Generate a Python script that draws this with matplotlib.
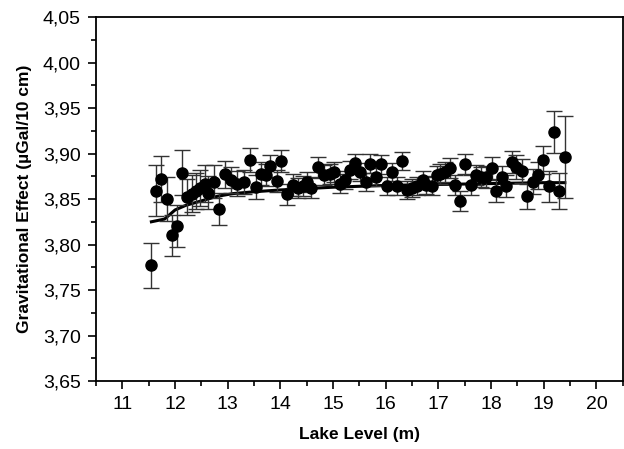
import matplotlib
matplotlib.use("Agg")
import matplotlib.pyplot as plt
from matplotlib.ticker import MultipleLocator, FuncFormatter

plt.rcParams['font.family'] = ['Liberation Sans', 'DejaVu Sans']

lake_level = [11.54, 11.64, 11.73, 11.84, 11.94, 12.04, 12.14, 12.23, 12.32, 12.40,
              12.48, 12.57, 12.63, 12.73, 12.83, 12.95, 13.07, 13.17, 13.31, 13.42,
              13.54, 13.63, 13.73, 13.81, 13.93, 14.02, 14.13, 14.23, 14.34, 14.43,
              14.51, 14.59, 14.72, 14.83, 14.94, 15.02, 15.13, 15.22, 15.32, 15.41,
              15.51, 15.62, 15.71, 15.81, 15.91, 16.02, 16.11, 16.21, 16.30, 16.41,
              16.49, 16.60, 16.70, 16.77, 16.87, 16.98, 17.03, 17.12, 17.22, 17.31,
              17.41, 17.50, 17.61, 17.71, 17.80, 17.90, 18.01, 18.10, 18.20, 18.29,
              18.39, 18.48, 18.58, 18.69, 18.80, 18.89, 18.99, 19.10, 19.19, 19.29,
              19.40]
grav_effect = [3.777, 3.859, 3.872, 3.850, 3.810, 3.820, 3.879, 3.852, 3.856, 3.859,
               3.862, 3.867, 3.857, 3.869, 3.839, 3.877, 3.871, 3.867, 3.869, 3.893,
               3.863, 3.878, 3.876, 3.886, 3.870, 3.892, 3.855, 3.865, 3.862, 3.864,
               3.869, 3.862, 3.885, 3.876, 3.878, 3.880, 3.867, 3.871, 3.882, 3.890,
               3.880, 3.869, 3.889, 3.874, 3.888, 3.864, 3.880, 3.864, 3.892, 3.860,
               3.862, 3.864, 3.871, 3.865, 3.864, 3.876, 3.878, 3.880, 3.884, 3.865,
               3.848, 3.888, 3.865, 3.876, 3.874, 3.874, 3.884, 3.859, 3.874, 3.864,
               3.891, 3.885, 3.881, 3.853, 3.869, 3.876, 3.893, 3.864, 3.924, 3.859,
               3.896]
grav_error = [0.025, 0.028, 0.025, 0.024, 0.023, 0.023, 0.025, 0.020, 0.020, 0.020,
              0.020, 0.020, 0.018, 0.018, 0.018, 0.015, 0.014, 0.014, 0.013, 0.013,
              0.013, 0.013, 0.012, 0.012, 0.012, 0.012, 0.012, 0.012, 0.011, 0.011,
              0.011, 0.011, 0.011, 0.011, 0.011, 0.011, 0.010, 0.010, 0.010, 0.010,
              0.010, 0.010, 0.010, 0.010, 0.010, 0.010, 0.010, 0.010, 0.010, 0.010,
              0.010, 0.010, 0.010, 0.010, 0.010, 0.010, 0.011, 0.011, 0.011, 0.011,
              0.011, 0.011, 0.011, 0.011, 0.011, 0.012, 0.012, 0.012, 0.012, 0.012,
              0.012, 0.013, 0.013, 0.014, 0.014, 0.015, 0.015, 0.017, 0.023, 0.020,
              0.045]

fit_level = [11.55, 11.8, 12.0, 12.2, 12.5, 12.8, 13.1, 13.5, 14.0, 15.0, 16.0, 17.0, 18.0, 19.0, 19.4]
fit_effect = [3.825, 3.828, 3.838, 3.843, 3.848, 3.853, 3.856, 3.858, 3.860, 3.863, 3.865, 3.866, 3.867, 3.868, 3.868]

fig = plt.figure(figsize=(6.24, 4.49), dpi=100)
ax = fig.add_axes([0.154, 0.1514, 0.844, 0.8106])

ax.plot(fit_level, fit_effect, color='black', lw=2.2, zorder=2)
ax.errorbar(lake_level, grav_effect, yerr=grav_error, fmt='o', color='black',
            ecolor='#333333', elinewidth=1.0, capsize=6, capthick=1.0,
            markersize=8, zorder=3)

ax.set_xlim(10.5, 20.5)
ax.set_ylim(3.65, 4.05)
ax.xaxis.set_major_locator(MultipleLocator(1))
ax.xaxis.set_minor_locator(MultipleLocator(0.5))
ax.yaxis.set_major_locator(MultipleLocator(0.05))
ax.yaxis.set_minor_locator(MultipleLocator(0.025))
ax.yaxis.set_major_formatter(FuncFormatter(lambda v, p: f"{v:.2f}".replace('.', ',')))
ax.xaxis.set_major_formatter(FuncFormatter(lambda v, p: f"{v:.0f}"))

ax.tick_params(which='both', direction='out', width=1.2, labelsize=14)
ax.tick_params(which='major', length=6, pad=5)
ax.tick_params(which='minor', length=3.5)
for s in ax.spines.values():
    s.set_linewidth(1.3)

ax.set_xlabel('Lake Level (m)', fontsize=12.5, fontweight='bold', labelpad=10)
ax.set_ylabel('Gravitational Effect (\u00b5Gal/10 cm)', fontsize=12.5, fontweight='bold', labelpad=8)

fig.savefig('out.png', dpi=100)
